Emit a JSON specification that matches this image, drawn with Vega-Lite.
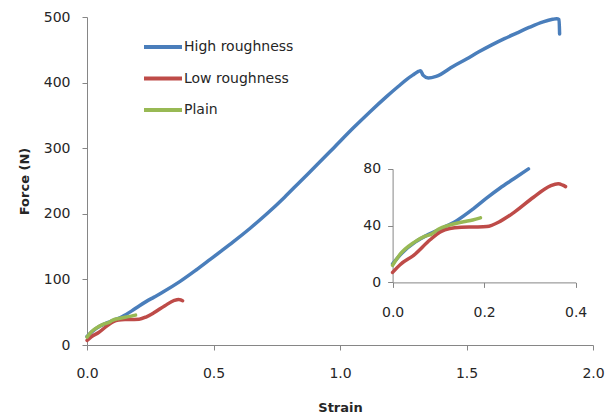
{
  "$schema": "https://vega.github.io/schema/vega-lite/v6.json",
  "width": 506,
  "height": 328,
  "autosize": {"type": "none"},
  "padding": {"left": 87, "top": 17, "right": 23, "bottom": 73},
  "background": "white",
  "config": {
    "view": {"stroke": null},
    "font": "DejaVu Sans",
    "axis": {
      "grid": false,
      "labelFlush": false,
      "labelOverlap": false,
      "domainColor": "#868686",
      "tickColor": "#868686",
      "tickSize": 5,
      "labelFont": "DejaVu Sans",
      "labelFontSize": 14,
      "labelColor": "#262626",
      "titleFont": "DejaVu Sans",
      "titleFontSize": 13,
      "titleFontWeight": "bold",
      "titleColor": "#262626"
    },
    "legend": {"labelFont": "DejaVu Sans"}
  },
  "data": {
    "values": [
      {"series": "High roughness", "strain": 0, "force": 13},
      {"series": "High roughness", "strain": 0.02, "force": 20.5},
      {"series": "High roughness", "strain": 0.05, "force": 28.5},
      {"series": "High roughness", "strain": 0.08, "force": 34},
      {"series": "High roughness", "strain": 0.11, "force": 38.5},
      {"series": "High roughness", "strain": 0.14, "force": 43.5},
      {"series": "High roughness", "strain": 0.177, "force": 52},
      {"series": "High roughness", "strain": 0.206, "force": 59.5},
      {"series": "High roughness", "strain": 0.235, "force": 66.5},
      {"series": "High roughness", "strain": 0.265, "force": 73},
      {"series": "High roughness", "strain": 0.297, "force": 80},
      {"series": "High roughness", "strain": 0.368, "force": 97},
      {"series": "High roughness", "strain": 0.43, "force": 114},
      {"series": "High roughness", "strain": 0.487, "force": 130.5},
      {"series": "High roughness", "strain": 0.53, "force": 143},
      {"series": "High roughness", "strain": 0.579, "force": 157.5},
      {"series": "High roughness", "strain": 0.645, "force": 178},
      {"series": "High roughness", "strain": 0.711, "force": 200},
      {"series": "High roughness", "strain": 0.78, "force": 225},
      {"series": "High roughness", "strain": 0.842, "force": 249},
      {"series": "High roughness", "strain": 0.91, "force": 275},
      {"series": "High roughness", "strain": 0.974, "force": 300},
      {"series": "High roughness", "strain": 1.053, "force": 331},
      {"series": "High roughness", "strain": 1.12, "force": 356},
      {"series": "High roughness", "strain": 1.185, "force": 379},
      {"series": "High roughness", "strain": 1.23, "force": 394},
      {"series": "High roughness", "strain": 1.264, "force": 405},
      {"series": "High roughness", "strain": 1.29, "force": 412},
      {"series": "High roughness", "strain": 1.31, "force": 417},
      {"series": "High roughness", "strain": 1.318, "force": 418},
      {"series": "High roughness", "strain": 1.329, "force": 411},
      {"series": "High roughness", "strain": 1.349, "force": 407},
      {"series": "High roughness", "strain": 1.38, "force": 409.5},
      {"series": "High roughness", "strain": 1.448, "force": 425},
      {"series": "High roughness", "strain": 1.5, "force": 436},
      {"series": "High roughness", "strain": 1.547, "force": 446.5},
      {"series": "High roughness", "strain": 1.6, "force": 457.5},
      {"series": "High roughness", "strain": 1.65, "force": 467},
      {"series": "High roughness", "strain": 1.698, "force": 475.5},
      {"series": "High roughness", "strain": 1.75, "force": 484.5},
      {"series": "High roughness", "strain": 1.803, "force": 492.5},
      {"series": "High roughness", "strain": 1.84, "force": 496.5},
      {"series": "High roughness", "strain": 1.856, "force": 497.5},
      {"series": "High roughness", "strain": 1.866, "force": 496},
      {"series": "High roughness", "strain": 1.868, "force": 474},
      {"series": "Low roughness", "strain": 0, "force": 7},
      {"series": "Low roughness", "strain": 0.017, "force": 12.6},
      {"series": "Low roughness", "strain": 0.046, "force": 19},
      {"series": "Low roughness", "strain": 0.082, "force": 30},
      {"series": "Low roughness", "strain": 0.104, "force": 35.5},
      {"series": "Low roughness", "strain": 0.125, "force": 38},
      {"series": "Low roughness", "strain": 0.15, "force": 38.8},
      {"series": "Low roughness", "strain": 0.18, "force": 39},
      {"series": "Low roughness", "strain": 0.206, "force": 39.3},
      {"series": "Low roughness", "strain": 0.235, "force": 43},
      {"series": "Low roughness", "strain": 0.264, "force": 49},
      {"series": "Low roughness", "strain": 0.308, "force": 60},
      {"series": "Low roughness", "strain": 0.345, "force": 68},
      {"series": "Low roughness", "strain": 0.362, "force": 69.5},
      {"series": "Low roughness", "strain": 0.372, "force": 68.5},
      {"series": "Low roughness", "strain": 0.378, "force": 67.5},
      {"series": "Plain", "strain": 0, "force": 12},
      {"series": "Plain", "strain": 0.017, "force": 20},
      {"series": "Plain", "strain": 0.046, "force": 28},
      {"series": "Plain", "strain": 0.071, "force": 32.5},
      {"series": "Plain", "strain": 0.085, "force": 34},
      {"series": "Plain", "strain": 0.1, "force": 37.5},
      {"series": "Plain", "strain": 0.126, "force": 40.5},
      {"series": "Plain", "strain": 0.155, "force": 42.7},
      {"series": "Plain", "strain": 0.175, "force": 44},
      {"series": "Plain", "strain": 0.192, "force": 45.5}
    ]
  },
  "layer": [
    {
      "mark": {"type": "line", "strokeWidth": 3.5, "interpolate": "monotone", "strokeCap": "round"},
      "encoding": {
        "x": {
          "field": "strain", "type": "quantitative",
          "scale": {"domain": [0, 2], "nice": false},
          "axis": {"values": [0, 0.5, 1, 1.5, 2], "format": ".1f", "labelPadding": 16, "title": "Strain", "titlePadding": 21}
        },
        "y": {
          "field": "force", "type": "quantitative",
          "scale": {"domain": [0, 500], "nice": false},
          "axis": {"values": [0, 100, 200, 300, 400, 500], "labelPadding": 12, "title": "Force (N)", "titlePadding": 12}
        },
        "color": {
          "field": "series", "type": "nominal",
          "scale": {"domain": ["High roughness", "Low roughness", "Plain"], "range": ["#4A7EBB", "#BE4B48", "#98B954"]},
          "legend": {
            "title": null,
            "orient": "none",
            "legendX": 55,
            "legendY": 9,
            "symbolType": "stroke",
            "symbolSize": 1444,
            "symbolStrokeWidth": 4,
            "labelFontSize": 14,
            "labelColor": "#262626",
            "labelOffset": 0,
            "rowPadding": 2.5
          }
        }
      }
    },
    {
      "transform": [{"filter": "datum.strain <= 0.4 && datum.force <= 80.01"}],
      "mark": {"type": "line", "strokeWidth": 3.5, "interpolate": "monotone", "strokeCap": "round"},
      "encoding": {
        "x": {
          "field": "strain", "type": "quantitative",
          "scale": {"domain": [0, 0.4], "nice": false, "range": [305.6, 488.6]},
          "axis": {"orient": "bottom", "offset": -62.6, "values": [0, 0.2, 0.4], "format": ".1f", "labelPadding": 18, "title": null}
        },
        "y": {
          "field": "force", "type": "quantitative",
          "scale": {"domain": [0, 80], "nice": false, "range": [265.3, 151.9]},
          "axis": {"orient": "left", "offset": -305.6, "values": [0, 40, 80], "labelPadding": 7, "title": null}
        },
        "color": {
          "field": "series", "type": "nominal",
          "legend": null
        }
      }
    }
  ],
  "resolve": {
    "scale": {"x": "independent", "y": "independent"},
    "axis": {"x": "independent", "y": "independent"}
  }
}
